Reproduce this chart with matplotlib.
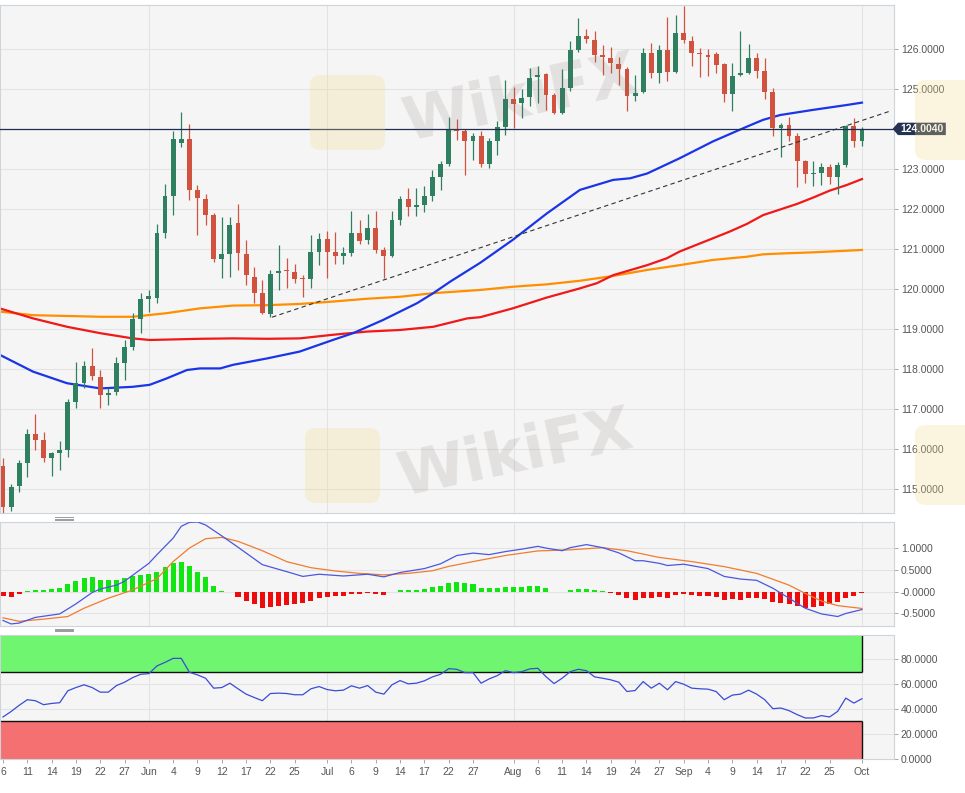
import numpy as np
import matplotlib
matplotlib.use('Agg')
import matplotlib.pyplot as plt
from matplotlib.patches import Polygon, FancyBboxPatch
from matplotlib.lines import Line2D
from matplotlib.transforms import blended_transform_factory

# daily candles, 6 May - 1 Oct (trading days)
opens = [115.58, 114.57, 115.07, 115.65, 116.38, 116.22, 115.79, 115.90, 115.97, 117.17,
         117.65, 118.08, 117.81, 117.36, 117.44, 118.15, 118.55, 119.25, 119.75, 119.77,
         121.40, 122.33, 123.66, 123.74, 122.48, 122.25, 121.85, 120.75, 120.88, 121.66,
         120.88, 120.31, 119.90, 119.38, 120.40, 120.46, 120.44, 120.26, 120.25, 120.94,
         121.25, 120.93, 120.83, 120.91, 121.40, 121.23, 121.52, 120.98, 120.83, 121.73,
         122.24, 122.04, 122.10, 122.33, 122.79, 123.13, 123.99, 123.94, 123.71, 123.83,
         123.13, 123.71, 124.06, 124.74, 124.64, 124.79, 125.29, 125.38, 124.84, 124.39,
         125.02, 125.97, 126.33, 126.22, 125.84, 125.77, 125.63, 125.49, 124.83, 124.93,
         125.91, 125.41, 125.97, 125.43, 126.41, 126.21, 125.91, 125.85, 125.87, 125.63,
         124.88, 125.34, 125.39, 125.77, 125.46, 124.93, 124.02, 124.10, 123.83, 123.19,
         122.87, 122.89, 123.04, 122.81, 123.10, 124.08, 123.69]
highs = [115.77, 115.13, 115.73, 116.50, 116.88, 116.42, 115.94, 116.21, 117.25, 118.19,
         118.21, 118.52, 117.98, 117.52, 118.31, 118.73, 119.40, 119.90, 119.98, 121.63,
         122.62, 123.96, 124.43, 124.13, 122.60, 122.37, 121.90, 121.81, 121.81, 122.13,
         121.23, 120.56, 120.23, 120.48, 121.10, 120.77, 120.63, 120.35, 121.35, 121.41,
         121.46, 121.44, 121.05, 121.96, 121.73, 121.88, 121.96, 121.06, 121.96, 122.33,
         122.52, 122.52, 122.58, 122.98, 123.19, 124.31, 124.24, 123.99, 123.89, 123.94,
         123.77, 124.19, 125.23, 125.06, 124.99, 125.52, 125.57, 125.41, 124.91, 125.49,
         126.21, 126.77, 126.49, 126.46, 126.10, 126.06, 125.79, 125.56, 125.35, 126.02,
         126.14, 126.10, 126.79, 126.85, 127.07, 126.33, 126.02, 125.99, 125.93, 125.66,
         125.66, 126.46, 126.12, 125.91, 125.77, 125.02, 124.14, 124.31, 123.89, 123.23,
         123.19, 123.14, 123.13, 123.18, 124.10, 124.27, 124.06]
lows = [114.42, 114.47, 114.94, 115.30, 115.98, 115.69, 115.32, 115.48, 115.80, 117.02,
        117.52, 117.73, 117.02, 117.11, 117.36, 117.72, 118.48, 118.90, 119.44, 119.65,
        121.27, 121.85, 123.56, 122.23, 121.35, 121.60, 120.69, 120.27, 120.31, 120.48,
        120.10, 119.65, 119.38, 119.30, 119.98, 120.02, 120.15, 119.81, 120.04, 120.60,
        120.27, 120.63, 120.63, 120.83, 121.13, 121.13, 120.90, 120.27, 120.81, 121.60,
        121.83, 121.83, 121.94, 122.21, 122.48, 123.08, 123.73, 122.85, 123.23, 123.04,
        123.02, 123.35, 123.85, 124.02, 124.27, 124.58, 124.66, 124.48, 124.38, 124.38,
        124.96, 125.93, 126.14, 125.68, 125.35, 125.39, 125.10, 124.46, 124.71, 124.91,
        125.27, 125.16, 125.21, 125.41, 126.16, 125.58, 125.31, 125.32, 125.39, 124.68,
        124.46, 125.33, 125.38, 125.27, 124.74, 123.83, 123.31, 123.69, 122.54, 122.66,
        122.58, 122.60, 122.63, 122.38, 123.04, 123.54, 123.57]
closes = [114.57, 115.05, 115.65, 116.38, 116.23, 115.78, 115.90, 115.97, 117.17, 117.65,
          118.08, 117.83, 117.36, 117.40, 118.15, 118.55, 119.25, 119.75, 119.83, 121.40,
          122.33, 123.74, 123.74, 122.48, 122.27, 121.85, 120.75, 120.88, 121.60, 120.90,
          120.35, 119.90, 119.40, 120.38, 120.46, 120.45, 120.25, 120.25, 120.94, 121.25,
          120.94, 120.83, 120.91, 121.40, 121.21, 121.52, 120.98, 120.83, 121.73, 122.24,
          122.04, 122.10, 122.33, 122.79, 123.13, 123.99, 123.94, 123.71, 123.83, 123.13,
          123.71, 124.06, 124.74, 124.63, 124.77, 125.27, 125.36, 124.85, 124.39, 125.02,
          125.97, 126.33, 126.24, 125.85, 125.79, 125.64, 125.49, 124.83, 124.91, 125.91,
          125.41, 125.97, 125.43, 126.41, 126.23, 125.91, 125.88, 125.79, 125.60, 124.88,
          125.33, 125.39, 125.77, 125.46, 124.93, 124.02, 124.10, 123.83, 123.19, 122.88,
          122.91, 123.04, 122.81, 123.10, 124.08, 123.69, 124.004]

tick_days = [0, 3, 6, 9, 12, 15, 18, 21, 24, 27, 30, 33, 36, 40, 43, 46, 49, 52, 55, 58,
             63, 66, 69, 72, 75, 78, 81, 84, 87, 90, 93, 96, 99, 102, 106]
tick_labels = ['6', '11', '14', '19', '22', '27', 'Jun', '4', '9', '12', '17', '22', '25',
               'Jul', '6', '9', '14', '17', '22', '27', 'Aug', '6', '11', '14', '19', '24',
               '27', 'Sep', '4', '9', '14', '17', '22', '25', 'Oct']
month_days = [18, 40, 63, 84, 106]

# moving averages at these day positions
ma55_days = [-0.4, 3.7, 7.9, 12.0, 16.0, 18.1, 20.2, 22.7, 24.3, 26.8, 28.4, 32.6, 36.6,
             40.7, 43.2, 46.9, 51.1, 53.1, 55.2, 58.9, 62.9, 67.1, 71.2, 75.3, 77.4, 79.5,
             83.5, 87.6, 91.8, 93.8, 95.9, 100.0, 104.1, 106.0]
ma55 = [118.36, 117.94, 117.65, 117.52, 117.56, 117.61, 117.77, 117.98, 118.02, 118.02,
        118.11, 118.27, 118.44, 118.73, 118.90, 119.23, 119.65, 119.90, 120.19, 120.66,
        121.23, 121.89, 122.48, 122.73, 122.77, 122.89, 123.27, 123.69, 124.06, 124.23,
        124.35, 124.48, 124.60, 124.66]
ma100_days = [-0.4, 3.7, 7.9, 12.0, 16.0, 18.1, 24.3, 28.4, 32.6, 36.6, 40.7, 44.9, 49.0,
              53.1, 57.3, 58.9, 62.9, 67.1, 71.2, 73.3, 75.3, 79.5, 81.9, 83.5, 87.6, 89.7,
              91.8, 93.8, 95.9, 98.0, 100.0, 102.0, 104.1, 106.0]
ma100 = [119.52, 119.27, 119.06, 118.90, 118.77, 118.73, 118.76, 118.77, 118.76, 118.77,
         118.86, 118.94, 118.98, 119.06, 119.27, 119.30, 119.52, 119.79, 120.02, 120.15,
         120.35, 120.60, 120.77, 120.94, 121.27, 121.44, 121.63, 121.85, 121.99, 122.13,
         122.29, 122.46, 122.60, 122.75]
ma200_days = [-0.4, 3.7, 7.9, 12.0, 16.0, 20.2, 24.3, 28.4, 32.6, 36.6, 40.7, 44.9, 49.0,
              53.1, 58.9, 62.9, 67.1, 71.2, 75.3, 79.5, 83.5, 87.6, 91.8, 93.8, 95.9, 100.0,
              104.1, 106.0]
ma200 = [119.44, 119.35, 119.33, 119.31, 119.31, 119.40, 119.52, 119.59, 119.60, 119.63,
         119.69, 119.76, 119.81, 119.90, 119.98, 120.06, 120.12, 120.21, 120.33, 120.48,
         120.60, 120.73, 120.81, 120.87, 120.89, 120.92, 120.96, 120.98]

trend_days = [33.2, 109.5]
trend_vals = [119.30, 124.45]
last_price = 124.004

macd_days = [0, 1, 2, 4, 7, 9, 11, 12, 14, 15, 18, 19, 21, 22, 23, 24, 25, 27, 29, 32,
             35, 37, 39, 42, 45, 47, 49, 52, 54, 56, 58, 60, 62, 64, 66, 67, 69, 70, 72,
             74, 76, 78, 79, 81, 82, 84, 87, 89, 91, 93, 95, 97, 99, 101, 103, 104, 106]
macd_line = [-0.66, -0.74, -0.72, -0.59, -0.51, -0.28, -0.02, 0.06, 0.15, 0.24, 0.65, 0.85,
             1.23, 1.50, 1.59, 1.60, 1.53, 1.28, 1.02, 0.62, 0.46, 0.35, 0.40, 0.36, 0.40,
             0.34, 0.44, 0.53, 0.64, 0.83, 0.885, 0.85, 0.92, 0.975, 1.04, 1.00, 0.94, 1.01,
             1.08, 1.01, 0.89, 0.71, 0.71, 0.65, 0.60, 0.63, 0.53, 0.35, 0.29, 0.26, 0.08,
             -0.15, -0.38, -0.51, -0.57, -0.50, -0.41]
signal_days = [0, 2, 5, 8, 10, 13, 16, 19, 21, 23, 25, 27, 29, 32, 35, 38, 41, 44, 47, 50,
               53, 55, 58, 62, 66, 70, 74, 77, 81, 85, 89, 93, 97, 99, 101, 103, 106]
signal_line = [-0.60, -0.68, -0.63, -0.57, -0.38, -0.15, 0.04, 0.30, 0.69, 1.00, 1.215,
               1.245, 1.155, 0.94, 0.69, 0.55, 0.475, 0.42, 0.385, 0.42, 0.48, 0.58, 0.69,
               0.83, 0.935, 0.96, 1.01, 0.94, 0.785, 0.69, 0.575, 0.42, 0.15, -0.04, -0.215,
               -0.32, -0.385]
macd_hist = [-0.09, -0.115, -0.06, 0.005, 0.046, 0.046, 0.054, 0.077, 0.17, 0.246,
             0.32, 0.33, 0.27, 0.26, 0.277, 0.31, 0.354, 0.385, 0.40, 0.446,
             0.56, 0.654, 0.69, 0.60, 0.46, 0.33, 0.14, 0.005, -0.015, -0.115,
             -0.21, -0.29, -0.37, -0.35, -0.32, -0.31, -0.29, -0.27, -0.215, -0.14,
             -0.115, -0.108, -0.09, -0.06, -0.054, -0.02, -0.054, -0.077, -0.015, 0.03,
             0.04, 0.046, 0.06, 0.108, 0.14, 0.20, 0.215, 0.20, 0.177, 0.092,
             0.077, 0.092, 0.108, 0.108, 0.108, 0.123, 0.123, 0.077, 0.003, -0.008,
             0.03, 0.06, 0.06, 0.03, 0.005, -0.03, -0.077, -0.14, -0.185, -0.154,
             -0.154, -0.123, -0.14, -0.077, -0.062, -0.077, -0.092, -0.092, -0.123, -0.185,
             -0.17, -0.185, -0.14, -0.14, -0.17, -0.23, -0.26, -0.29, -0.32, -0.37,
             -0.354, -0.32, -0.29, -0.246, -0.14, -0.09, -0.02]

rsi = [33.6, 38.0, 43.0, 47.5, 46.7, 43.5, 44.5, 45.1, 54.7, 57.3,
       59.5, 57.3, 53.6, 53.6, 58.9, 61.6, 65.3, 68.0, 68.5, 74.7,
       77.6, 80.8, 80.8, 69.6, 67.5, 64.8, 56.8, 57.3, 60.8, 56.3,
       52.0, 49.3, 46.7, 52.5, 52.8, 52.5, 51.5, 51.5, 56.3, 58.1,
       55.7, 54.7, 55.2, 58.7, 56.8, 58.9, 53.6, 52.0, 59.5, 62.9,
       60.3, 60.8, 62.7, 65.9, 68.0, 72.5, 72.0, 69.3, 69.3, 60.8,
       64.3, 66.9, 70.9, 69.3, 70.1, 72.3, 72.8, 66.1, 60.5, 64.8,
       70.1, 72.0, 70.9, 65.9, 64.8, 63.5, 61.6, 54.1, 54.9, 62.1,
       56.8, 60.8, 55.5, 62.1, 60.0, 56.8, 56.3, 56.0, 54.1, 47.5,
       51.2, 52.0, 55.2, 52.0, 47.5, 40.3, 40.8, 38.7, 35.5, 32.8,
       32.8, 34.7, 33.6, 38.1, 48.8, 44.8, 48.3]

UP, DOWN = '#2f7f61', '#d1533f'
BG = '#f5f5f5'
GRID = '#e3e3e3'
SPINE = '#cfd3da'
TXT = '#555555'
XLIM = (-0.37, 109.95)

plt.rcParams['font.family'] = ['Liberation Sans', 'DejaVu Sans']

fig = plt.figure(figsize=(9.65, 7.93), dpi=100)
fig.patch.set_facecolor('white')

ax = fig.add_axes([0, 0.3527, 0.9264, 0.6414])
ax2 = fig.add_axes([0, 0.2110, 0.9264, 0.1311])
ax3 = fig.add_axes([0, 0.04325, 0.9264, 0.1566])

for a in (ax, ax2, ax3):
    a.set_facecolor(BG)
    a.set_xlim(*XLIM)
    for s in a.spines.values():
        s.set_color(SPINE)
        s.set_linewidth(0.8)
    a.yaxis.tick_right()
    a.tick_params(axis='y', length=3, width=0.6, color='#999999', labelcolor=TXT,
                  labelsize=7.5, pad=2)
    for d in month_days:
        a.axvline(d, color=GRID, lw=0.8, zorder=0)

# ---- price panel ----
days = np.arange(len(opens))
o = np.array(opens); c = np.array(closes)
h = np.array(highs); l = np.array(lows)
cols = [UP if cc >= oo else DOWN for oo, cc in zip(o, c)]
ax.vlines(days, l, h, colors=cols, lw=0.9, zorder=3)
ax.bar(days, np.maximum(np.abs(c - o), 0.03), bottom=np.minimum(o, c), width=0.6,
       color=cols, zorder=4, linewidth=0)

ax.plot(ma200_days, ma200, color='#ff8f00', lw=1.6, zorder=2)
ax.plot(ma100_days, ma100, color='#f01818', lw=1.6, zorder=2)
ax.plot(ma55_days, ma55, color='#1a35e8', lw=1.6, zorder=2)
ax.plot(trend_days, trend_vals, color='#333333', lw=0.8, ls=(0, (4, 3)), zorder=5)
ax.axhline(last_price, color='#1f2d50', lw=0.9, zorder=5)

price_ticks = np.arange(115, 127)
ax.set_yticks(price_ticks)
ax.set_yticklabels(['%.4f' % v for v in price_ticks])
ax.set_ylim(114.40, 127.107)
for v in price_ticks:
    ax.axhline(v, color=GRID, lw=0.8, zorder=0)
ax.set_xticks([])

tr = blended_transform_factory(ax.transAxes, ax.transData)
tag = Polygon([[0.9985, last_price], [1.0045, last_price + 0.155], [1.058, last_price + 0.155],
               [1.058, last_price - 0.155], [1.0045, last_price - 0.155]],
              closed=True, transform=tr, clip_on=False, facecolor='#243352',
              edgecolor='none', zorder=20)
ax.add_patch(tag)
ax.text(1.0315, last_price, '%.4f' % last_price, transform=tr, color='white',
        fontsize=7.5, fontweight='bold', ha='center', va='center', zorder=21,
        clip_on=False)

# ---- MACD panel ----
hist_cols = ['#11e611' if v >= 0 else '#ee0b0b' for v in macd_hist]
ax2.bar(days, macd_hist, width=0.62, color=hist_cols, linewidth=0, zorder=2)
ax2.plot(signal_days, signal_line, color='#f07c30', lw=0.9, zorder=3)
ax2.plot(macd_days, macd_line, color='#4a58e0', lw=0.9, zorder=3)
macd_ticks = [1.0, 0.5, 0.0, -0.5]
ax2.set_yticks(macd_ticks)
ax2.set_yticklabels(['1.0000', '0.5000', '-0.0000', '-0.5000'])
for v in macd_ticks:
    ax2.axhline(v, color=GRID, lw=0.8, zorder=0)
ax2.set_ylim(-0.78, 1.605)
ax2.set_xticks([])

# ---- RSI panel ----
last = days[-1]
ax3.fill_between([XLIM[0], last], 70, 100, color='#6ff56f', lw=0, zorder=1)
ax3.fill_between([XLIM[0], last], 0, 30, color='#f57171', lw=0, zorder=1)
ax3.hlines([70, 30], XLIM[0], last, color='#111111', lw=1.0, zorder=2)
ax3.vlines(last, 70, 100, color='#111111', lw=1.0, zorder=2)
ax3.vlines(last, 0, 30, color='#111111', lw=1.0, zorder=2)
ax3.plot(days, rsi, color='#3a4bd6', lw=0.9, zorder=3)
rsi_ticks = [0, 20, 40, 60, 80]
ax3.set_yticks(rsi_ticks)
ax3.set_yticklabels(['%.4f' % v for v in rsi_ticks])
for v in rsi_ticks:
    ax3.axhline(v, color=GRID, lw=0.8, zorder=0)
ax3.set_ylim(0, 100)
ax3.set_xticks(tick_days)
ax3.set_xticklabels(tick_labels)
ax3.tick_params(axis='x', length=3, width=0.6, color='#999999', labelcolor=TXT,
                labelsize=7.5, pad=3)

# panel grips
for yy in (518.5, 630.0):
    for k in (-1.3, 0, 1.3):
        fig.add_artist(Line2D([55 / 965, 73 / 965], [1 - (yy + k) / 793] * 2,
                              color='#9a9a9a', lw=0.7))

# faint watermarks
wm = dict(fontsize=44, fontweight='bold', color='#7a6a68', alpha=0.15, rotation=12,
          ha='center', va='center', family='DejaVu Sans')
fig.text(520 / 965, 1 - 100 / 793, 'WikiFX', **wm)
fig.text(515 / 965, 1 - 455 / 793, 'WikiFX', **wm)
for x0, y0, s in [(310, 75, 75), (305, 428, 75), (915, 80, 80), (915, 425, 80)]:
    fig.add_artist(FancyBboxPatch((x0 / 965, 1 - (y0 + s) / 793), s / 965, s / 793,
                                  boxstyle='round,pad=0,rounding_size=0.012',
                                  transform=fig.transFigure, facecolor='#f2d98a',
                                  edgecolor='none', alpha=0.28))

fig.savefig('out.png', dpi=100, facecolor='white')
